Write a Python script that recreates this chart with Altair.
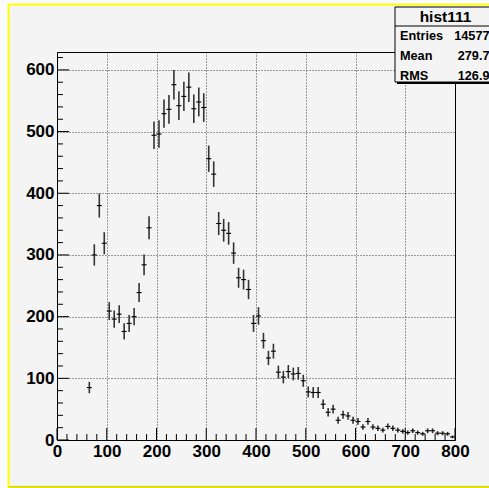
import altair as alt
import pandas as pd

# ---- data (10-unit bins, centre values) ----
bin_center = [65, 75, 85, 95, 105, 115, 125, 135, 145, 155, 165, 175, 185, 195,
              205, 215, 225, 235, 245, 255, 265, 275, 285, 295, 305, 315, 325, 335,
              345, 355, 365, 375, 385, 395, 405, 415, 425, 435, 445, 455, 465, 475,
              485, 495, 505, 515, 525, 535, 545, 555, 565, 575, 585, 595, 605, 615,
              625, 635, 645, 655, 665, 675, 685, 695, 705, 715, 725, 735, 745, 755,
              765, 775, 785, 795]
counts = [85, 300, 380, 319, 209, 196, 204, 176, 189, 200, 239, 284, 344, 494,
          496, 529, 536, 576, 542, 557, 572, 537, 548, 539, 456, 431, 351, 340,
          335, 303, 263, 260, 244, 189, 201, 161, 133, 144, 110, 102, 111, 107,
          108, 96, 78, 77, 77, 58, 45, 50, 32, 41, 39, 32, 30, 21,
          30, 21, 19, 16, 22, 19, 16, 14, 12, 15, 12, 10, 15, 15,
          11, 11, 10, 5]

x_major = [0, 100, 200, 300, 400, 500, 600, 700, 800]
x_minor = [v for v in range(20, 800, 20) if v % 100]
y_major = [0, 100, 200, 300, 400, 500, 600]
y_minor = [v for v in range(20, 629, 20) if v % 100]

hist_title = "hist111"
stat_names = ["Entries", "Mean", "RMS"]
stat_values = ["14577", "279.7", "126.9"]

# ---- layout ----
W, H = 398, 388
FONT = "Liberation Sans"
BG = "#f4f4f4"

xs = alt.Scale(domain=[0, 800], nice=False, zero=False)
ys = alt.Scale(domain=[0, 629], nice=False, zero=False)

xaxis = alt.Axis(values=x_major, grid=True, gridDash=[1, 2], gridColor="#000000",
                 gridOpacity=0.75, ticks=False, domain=False, title=None,
                 labelFont=FONT, labelFontWeight="bold", labelFontSize=17,
                 labelColor="#000000", labelPadding=3, labelFlush=False,
                 format="d", labelOverlap=False)
yaxis = alt.Axis(values=y_major, grid=True, gridDash=[1, 2], gridColor="#000000",
                 gridOpacity=0.75, ticks=False, domain=False, title=None,
                 labelFont=FONT, labelFontWeight="bold", labelFontSize=17,
                 labelColor="#000000", labelPadding=3, labelFlush=False,
                 format="d", labelOverlap=False)

df = pd.DataFrame({"x": bin_center, "n": counts})
base = alt.Chart(df).transform_calculate(
    err="sqrt(datum.n)",
    lo="datum.n - sqrt(datum.n)",
    hi="datum.n + sqrt(datum.n)",
    xl="datum.x - 5",
    xr="datum.x + 5",
)

vbars = base.mark_rule(color="#333333", strokeWidth=1.6).encode(
    x=alt.X("x:Q", scale=xs, axis=xaxis),
    y=alt.Y("lo:Q", scale=ys, axis=yaxis),
    y2="hi:Q",
)
hbars = base.mark_rule(color="#000000", strokeWidth=1.1).encode(
    x=alt.X("xl:Q", scale=xs, axis=xaxis),
    x2="xr:Q",
    y=alt.Y("n:Q", scale=ys, axis=yaxis),
)

def xticks(vals, length):
    return alt.Chart(pd.DataFrame({"v": vals})).mark_rule(color="#000000", strokeWidth=1).encode(
        x=alt.X("v:Q", scale=xs, axis=xaxis),
        y=alt.value(H),
        y2=alt.value(H - length),
    )

def yticks(vals, length):
    return alt.Chart(pd.DataFrame({"v": vals})).mark_rule(color="#000000", strokeWidth=1).encode(
        y=alt.Y("v:Q", scale=ys, axis=yaxis),
        x=alt.value(0),
        x2=alt.value(length),
    )

one = alt.Data(values=[{"a": 1}])
OX, OY = 57, 52  # plot origin in the canvas

def box(x1, y1, x2, y2, **kw):
    return alt.Chart(one).mark_rect(**kw).encode(
        x=alt.value(x1 - OX), x2=alt.value(x2 - OX),
        y=alt.value(y1 - OY), y2=alt.value(y2 - OY),
    )

outer_left = box(0, 0, 8, 488, fill="#fafbfe", strokeWidth=0)
outer_top = box(0, 0, 489, 4, fill="#fafbfe", strokeWidth=0)
yellow = box(8.5, 4.5, 500, 487, fill=None, filled=False, stroke="#ffff00", strokeWidth=2)
yellow_bottom = box(8.5, 486, 500, 487.5, fill="#d4d400", strokeWidth=0)

shadow = box(397, 9, 500, 84, fill="#000000", strokeWidth=0)
stats_box = box(395, 7, 500, 82, fill=BG, stroke="#000000", strokeWidth=1)
sep = alt.Chart(one).mark_rule(color="#000000", strokeWidth=1).encode(
    x=alt.value(395 - OX), x2=alt.value(500 - OX), y=alt.value(26 - OY)
)
title_txt = alt.Chart(alt.Data(values=[{"t": hist_title}])).mark_text(
    font=FONT, fontWeight="bold", fontSize=15.5, color="#000000", align="center", baseline="middle"
).encode(text="t:N", x=alt.value(445.5 - OX), y=alt.value(17 - OY))

row_y = [36, 56, 75.5]
stat_layers = []
for i, (nm, vl) in enumerate(zip(stat_names, stat_values)):
    stat_layers.append(alt.Chart(alt.Data(values=[{"t": nm}])).mark_text(
        font=FONT, fontWeight="bold", fontSize=12.7, color="#000000", align="left", baseline="middle"
    ).encode(text="t:N", x=alt.value(400 - OX), y=alt.value(row_y[i] - OY)))
    stat_layers.append(alt.Chart(alt.Data(values=[{"t": vl}])).mark_text(
        font=FONT, fontWeight="bold", fontSize=12.7, color="#000000", align="right", baseline="middle"
    ).encode(text="t:N", x=alt.value(489.5 - OX), y=alt.value(row_y[i] - OY)))

chart = alt.layer(
    vbars, hbars,
    xticks(x_major, 12), xticks(x_minor, 6),
    yticks(y_major, 12), yticks(y_minor, 6),
    outer_left, outer_top, yellow, yellow_bottom,
    shadow, stats_box, sep, title_txt, *stat_layers,
).properties(
    width=W, height=H,
    autosize=alt.AutoSizeParams(type="none"),
    padding={"left": OX, "top": OY, "right": 489 - OX - W, "bottom": 488 - OY - H},
    background=BG,
).configure_view(
    stroke="#000000", strokeWidth=1, fill=BG
)

chart.save("out.html", embed_options={"renderer": "svg", "actions": False})
